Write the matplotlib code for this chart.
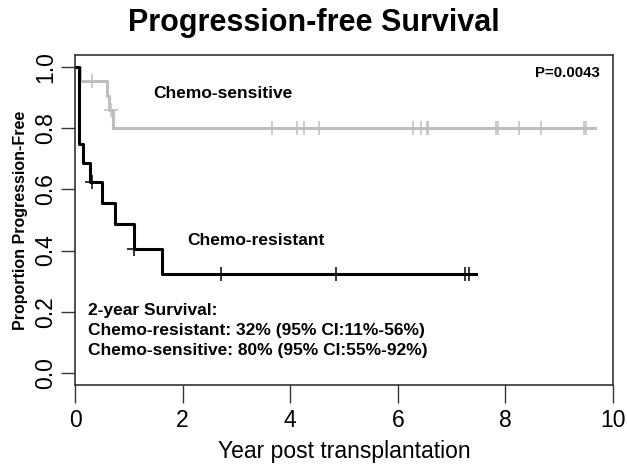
import numpy as np
import matplotlib
matplotlib.use("Agg")
import matplotlib.pyplot as plt

plt.rcParams['font.family'] = ['Liberation Sans', 'DejaVu Sans']

# Kaplan-Meier steps (time in years, survival after the drop)
res_times = [0.0, 0.08, 0.15, 0.28, 0.50, 0.74, 1.10, 1.62, 7.45]
res_surv = [1.0, 0.75, 0.6875, 0.625, 0.556, 0.486, 0.405, 0.324, 0.324]
res_censor = [0.32, 1.10, 2.71, 4.85, 7.25, 7.32]

sen_times = [0.0, 0.10, 0.60, 0.64, 0.70, 9.67]
sen_surv = [1.0, 0.955, 0.907, 0.859, 0.80, 0.80]
sen_censor = [0.32, 0.66, 3.66, 4.13, 4.26, 4.54, 6.28, 6.43, 6.54, 6.56,
              7.83, 7.86, 8.25, 8.66, 9.46, 9.50]

xticks = [0, 2, 4, 6, 8, 10]
yticks = [0.0, 0.2, 0.4, 0.6, 0.8, 1.0]
ytick_labels = ["0.0", "0.2", "0.4", "0.6", "0.8", "1.0"]

summary_lines = ["2-year Survival:",
                 "Chemo-resistant: 32% (95% CI:11%-56%)",
                 "Chemo-sensitive: 80% (95% CI:55%-92%)"]


def surv_at(t, times, surv):
    i = np.searchsorted(times, t, side='right') - 1
    return surv[i]


fig = plt.figure(figsize=(6.27, 4.73), dpi=100)
ax = fig.add_axes([75 / 627, 88 / 473, 538 / 627, 330 / 473])

gray = '#BEBEBE'
ax.step(sen_times, sen_surv, where='post', color=gray, lw=2.2)
ax.plot(sen_censor, [surv_at(t, sen_times, sen_surv) for t in sen_censor],
        ls='none', marker='+', ms=9.5, mew=1.1, color=gray)

ax.step(res_times, res_surv, where='post', color='black', lw=2.2)
ax.plot(res_censor, [surv_at(t, res_times, res_surv) for t in res_censor],
        ls='none', marker='+', ms=10, mew=1.1, color='black')

ax.set_xlim(0, 10)
ax.set_ylim(-0.04, 1.04)
ax.set_xticks(xticks)
ax.set_yticks(yticks)
ax.set_yticklabels(ytick_labels, rotation=90, va='center')
ax.tick_params(axis='both', labelsize=16.5, length=10, width=1, color='#333333')
ax.tick_params(axis='x', length=13, pad=4)
ax.tick_params(axis='y', pad=3)
for s in ax.spines.values():
    s.set_linewidth(1.2)
    s.set_color('#333333')

ax.set_xlabel('Year post transplantation', fontsize=16.5, labelpad=6)
ax.set_ylabel('Proportion Progression-Free', fontsize=11.5, fontweight='bold', labelpad=4)
fig.text(0.5, 1 - 23 / 473, 'Progression-free Survival', ha='center', va='center',
         fontsize=22, fontweight='bold')

ax.text(1.45, 0.915, 'Chemo-sensitive', fontsize=12.5, fontweight='bold', va='center')
ax.text(2.08, 0.432, 'Chemo-resistant', fontsize=12.5, fontweight='bold', va='center')
ax.text(9.75, 0.98, 'P=0.0043', fontsize=10.8, fontweight='bold', va='center', ha='right')
for k, line in enumerate(summary_lines):
    ax.text(0.24, 0.205 - k * 0.066, line, fontsize=12.5, fontweight='bold', va='center')

fig.savefig('out.png', dpi=100)
